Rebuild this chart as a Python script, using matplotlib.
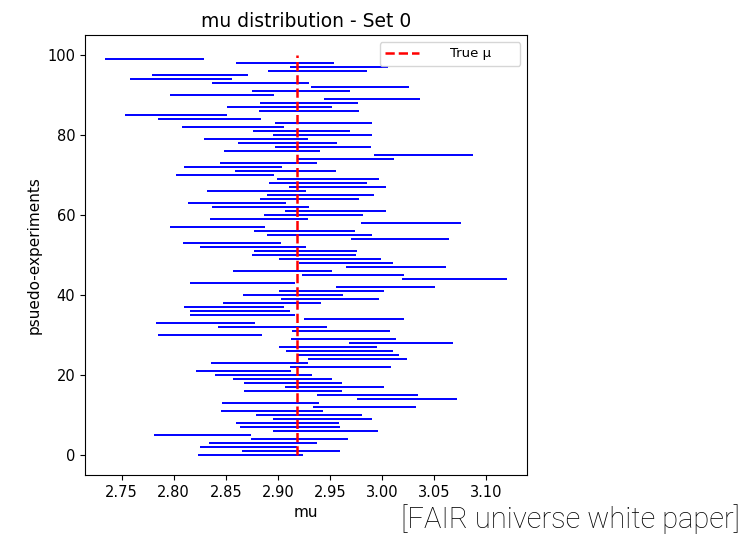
import numpy as np
import matplotlib
matplotlib.use("Agg")
import matplotlib.pyplot as plt

mu_low = [2.823, 2.866, 2.825, 2.834, 2.874, 2.781, 2.895, 2.864, 2.860, 2.895,
          2.879, 2.845, 2.934, 2.846, 2.976, 2.938, 2.868, 2.907, 2.868, 2.857,
          2.840, 2.821, 2.912, 2.836, 2.929, 2.918, 2.908, 2.901, 2.968, 2.913,
          2.785, 2.914, 2.843, 2.783, 2.925, 2.816, 2.816, 2.810, 2.847, 2.903,
          2.867, 2.901, 2.956, 2.816, 3.019, 2.923, 2.857, 2.966, 2.920, 2.901,
          2.875, 2.877, 2.825, 2.809, 2.970, 2.890, 2.877, 2.796, 2.980, 2.835,
          2.887, 2.907, 2.837, 2.814, 2.883, 2.890, 2.832, 2.911, 2.892, 2.899,
          2.802, 2.859, 2.810, 2.844, 2.918, 2.992, 2.848, 2.897, 2.862, 2.829,
          2.895, 2.876, 2.808, 2.897, 2.785, 2.753, 2.882, 2.851, 2.883, 2.944,
          2.796, 2.875, 2.932, 2.837, 2.758, 2.779, 2.891, 2.912, 2.860, 2.734]
mu_high = [2.924, 2.960, 2.918, 2.938, 2.967, 2.874, 2.996, 2.960, 2.959, 2.991,
           2.981, 2.943, 3.033, 2.940, 3.072, 3.035, 2.962, 3.002, 2.962, 2.952,
           2.933, 2.913, 3.009, 2.929, 3.024, 3.016, 3.011, 2.995, 3.068, 3.014,
           2.885, 3.008, 2.947, 2.878, 3.021, 2.917, 2.912, 2.906, 2.942, 2.997,
           2.963, 3.002, 3.051, 2.917, 3.120, 3.021, 2.952, 3.062, 3.011, 2.999,
           2.975, 2.976, 2.927, 2.903, 3.065, 2.991, 2.974, 2.888, 3.076, 2.929,
           2.982, 3.004, 2.930, 2.908, 2.978, 2.992, 2.927, 3.004, 2.986, 2.997,
           2.896, 2.956, 2.904, 2.938, 3.012, 3.088, 2.941, 2.990, 2.957, 2.929,
           2.991, 2.969, 2.906, 2.991, 2.884, 2.851, 2.978, 2.952, 2.977, 3.037,
           2.896, 2.969, 3.026, 2.930, 2.856, 2.871, 2.986, 3.006, 2.954, 2.829]
true_mu = 2.918
n_exp = len(mu_low)

fig = plt.figure(figsize=(7.42, 5.34), dpi=100)
ax = fig.add_axes([0.1145, 0.1105, 0.5955, 0.824])

# one horizontal segment per pseudo-experiment
ax.hlines(np.arange(n_exp), mu_low, mu_high, colors='blue', linewidth=1.4)
ax.vlines(true_mu, 0, n_exp, colors='red', linestyles='--', linewidth=1.8,
          label='True μ')

ax.set_title('mu distribution - Set 0', fontsize=13.5)
ax.set_xlabel('mu', fontsize=11)
ax.set_ylabel('psuedo-experiments', fontsize=11)
ax.tick_params(labelsize=10.5)

ax.legend(loc='upper left', bbox_to_anchor=(0.667, 0.5, 0.318, 0.484),
          mode='expand', borderaxespad=0, fontsize=9.5,
          handlelength=2.6, handletextpad=2.3)

fig.text(0.997, 0.012, '[FAIR universe white paper]', ha='right', va='baseline',
         fontsize=21, family='Roboto', fontweight='light')

fig.savefig('out.png', dpi=100)
